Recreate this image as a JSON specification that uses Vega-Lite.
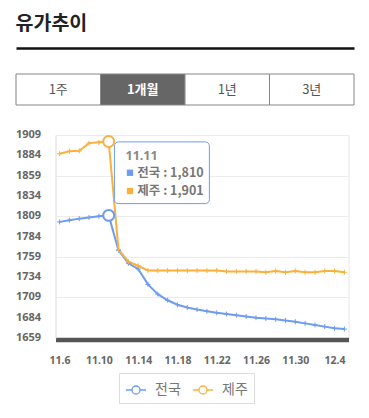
{
  "$schema": "https://vega.github.io/schema/vega-lite/v6.json",
  "autosize": {"type": "pad"},
  "padding": {"left": 15, "top": 13, "right": 5, "bottom": 5},
  "background": "white",
  "title": {"text": "유가추이", "anchor": "start", "frame": "bounds", "fontSize": 19.5, "fontWeight": "bold", "font": "Noto Sans CJK KR", "color": "#222222", "offset": 14},
  "config": {
    "font": "Noto Sans CJK KR",
    "view": {"stroke": "#e6e6e6"}
  },
  "datasets": {
    "prices": [
      {"date": "2023-11-06", "series": "전국", "value": 1802},
      {"date": "2023-11-07", "series": "전국", "value": 1804},
      {"date": "2023-11-08", "series": "전국", "value": 1806},
      {"date": "2023-11-09", "series": "전국", "value": 1807.5},
      {"date": "2023-11-10", "series": "전국", "value": 1809},
      {"date": "2023-11-11", "series": "전국", "value": 1810},
      {"date": "2023-11-12", "series": "전국", "value": 1767},
      {"date": "2023-11-13", "series": "전국", "value": 1751},
      {"date": "2023-11-14", "series": "전국", "value": 1744},
      {"date": "2023-11-15", "series": "전국", "value": 1725},
      {"date": "2023-11-16", "series": "전국", "value": 1713},
      {"date": "2023-11-17", "series": "전국", "value": 1705.5},
      {"date": "2023-11-18", "series": "전국", "value": 1700},
      {"date": "2023-11-19", "series": "전국", "value": 1696.5},
      {"date": "2023-11-20", "series": "전국", "value": 1694},
      {"date": "2023-11-21", "series": "전국", "value": 1692},
      {"date": "2023-11-22", "series": "전국", "value": 1690},
      {"date": "2023-11-23", "series": "전국", "value": 1688.5},
      {"date": "2023-11-24", "series": "전국", "value": 1687},
      {"date": "2023-11-25", "series": "전국", "value": 1685.5},
      {"date": "2023-11-26", "series": "전국", "value": 1684},
      {"date": "2023-11-27", "series": "전국", "value": 1683},
      {"date": "2023-11-28", "series": "전국", "value": 1682},
      {"date": "2023-11-29", "series": "전국", "value": 1680.5},
      {"date": "2023-11-30", "series": "전국", "value": 1679},
      {"date": "2023-12-01", "series": "전국", "value": 1677},
      {"date": "2023-12-02", "series": "전국", "value": 1675},
      {"date": "2023-12-03", "series": "전국", "value": 1673},
      {"date": "2023-12-04", "series": "전국", "value": 1671},
      {"date": "2023-12-05", "series": "전국", "value": 1670},
      {"date": "2023-11-06", "series": "제주", "value": 1886},
      {"date": "2023-11-07", "series": "제주", "value": 1889},
      {"date": "2023-11-08", "series": "제주", "value": 1889.5},
      {"date": "2023-11-09", "series": "제주", "value": 1899},
      {"date": "2023-11-10", "series": "제주", "value": 1900},
      {"date": "2023-11-11", "series": "제주", "value": 1901},
      {"date": "2023-11-12", "series": "제주", "value": 1768},
      {"date": "2023-11-13", "series": "제주", "value": 1753},
      {"date": "2023-11-14", "series": "제주", "value": 1748},
      {"date": "2023-11-15", "series": "제주", "value": 1742},
      {"date": "2023-11-16", "series": "제주", "value": 1742},
      {"date": "2023-11-17", "series": "제주", "value": 1742},
      {"date": "2023-11-18", "series": "제주", "value": 1742},
      {"date": "2023-11-19", "series": "제주", "value": 1742},
      {"date": "2023-11-20", "series": "제주", "value": 1742},
      {"date": "2023-11-21", "series": "제주", "value": 1742},
      {"date": "2023-11-22", "series": "제주", "value": 1742},
      {"date": "2023-11-23", "series": "제주", "value": 1741},
      {"date": "2023-11-24", "series": "제주", "value": 1741},
      {"date": "2023-11-25", "series": "제주", "value": 1741},
      {"date": "2023-11-26", "series": "제주", "value": 1741},
      {"date": "2023-11-27", "series": "제주", "value": 1740},
      {"date": "2023-11-28", "series": "제주", "value": 1741.5},
      {"date": "2023-11-29", "series": "제주", "value": 1740},
      {"date": "2023-11-30", "series": "제주", "value": 1741.5},
      {"date": "2023-12-01", "series": "제주", "value": 1740},
      {"date": "2023-12-02", "series": "제주", "value": 1740},
      {"date": "2023-12-03", "series": "제주", "value": 1741.5},
      {"date": "2023-12-04", "series": "제주", "value": 1741.5},
      {"date": "2023-12-05", "series": "제주", "value": 1740}
    ],
    "tabs": [{"tab": "1주"}, {"tab": "1개월"}, {"tab": "1년"}, {"tab": "3년"}],
    "yticks": [{"v": 1659}, {"v": 1684}, {"v": 1709}, {"v": 1734}, {"v": 1759}, {"v": 1784}, {"v": 1809}, {"v": 1834}, {"v": 1859}, {"v": 1884}, {"v": 1909}]
  },
  "spacing": 23,
  "vconcat": [
    {
      "width": 338,
      "height": 31,
      "view": {"stroke": null},
      "data": {"name": "tabs"},
      "encoding": {
        "x": {"field": "tab", "type": "nominal", "sort": null, "scale": {"type": "band", "paddingInner": 0, "paddingOuter": 0},
          "axis": {"orient": "top", "labels": false, "ticks": false, "title": null, "domainColor": "#111111", "domainWidth": 2.5, "offset": 26}}
      },
      "layer": [
        {"mark": {"type": "rect", "stroke": "#858585", "strokeWidth": 1},
         "encoding": {"fill": {"condition": {"test": "datum.tab === '1개월'", "value": "#666666"}, "value": "white"}}},
        {"transform": [{"filter": "datum.tab !== '1개월'"}],
         "mark": {"type": "text", "fontSize": 13, "color": "#555555"},
         "encoding": {"text": {"field": "tab"}}},
        {"transform": [{"filter": "datum.tab === '1개월'"}],
         "mark": {"type": "text", "fontSize": 13, "fontWeight": "bold", "color": "white"},
         "encoding": {"text": {"field": "tab"}}}
      ]
    },
    {
      "spacing": 6.5,
      "hconcat": [
        {
          "width": 25,
          "height": 203,
          "view": {"stroke": null},
          "data": {"name": "yticks"},
          "mark": {"type": "text", "fontSize": 11, "fontWeight": "bold", "color": "#666666", "font": "Noto Sans"},
          "encoding": {
            "y": {"field": "v", "type": "quantitative", "scale": {"domain": [1659, 1909], "nice": false, "zero": false}, "axis": null},
            "text": {"field": "v", "type": "quantitative", "format": "d"}
          }
        },
        {
          "width": 293,
          "height": 203,
          "layer": [
            {
              "data": {"name": "prices"},
              "mark": {"type": "line", "strokeWidth": 2},
              "encoding": {
                "x": {"field": "date", "type": "temporal",
                  "scale": {"type": "utc", "domain": [{"year": 2023, "month": 11, "date": 5, "hours": 14, "utc": true}, {"year": 2023, "month": 12, "date": 5, "hours": 10, "utc": true}]},
                  "axis": {"title": null, "labelExpr": "utcFormat(datum.value, '%-m.%-d')",
                    "values": [
                      {"year": 2023, "month": 11, "date": 6, "utc": true},
                      {"year": 2023, "month": 11, "date": 10, "utc": true},
                      {"year": 2023, "month": 11, "date": 14, "utc": true},
                      {"year": 2023, "month": 11, "date": 18, "utc": true},
                      {"year": 2023, "month": 11, "date": 22, "utc": true},
                      {"year": 2023, "month": 11, "date": 26, "utc": true},
                      {"year": 2023, "month": 11, "date": 30, "utc": true},
                      {"year": 2023, "month": 12, "date": 4, "utc": true}
                    ],
                    "ticks": false, "grid": false, "domainColor": "#555555", "domainWidth": 4.5, "offset": 1.5,
                    "labelFont": "Noto Sans", "labelFontSize": 10.5, "labelFontWeight": "bold", "labelColor": "#666666",
                    "labelPadding": 16, "labelFlush": false, "labelOverlap": false}},
                "y": {"field": "value", "type": "quantitative",
                  "scale": {"domain": [1659, 1909], "nice": false, "zero": false},
                  "axis": {"title": null, "values": [1659, 1684, 1709, 1734, 1759, 1784, 1809, 1834, 1859, 1884, 1909],
                    "labels": false, "ticks": false, "grid": true, "gridColor": "#ececec", "domainColor": "#e6e6e6", "minExtent": 0, "maxExtent": 0}},
                "color": {"field": "series", "type": "nominal",
                  "scale": {"domain": ["전국", "제주"], "range": ["#6d9cf0", "#fbb03b"]},
                  "legend": {"title": null, "orient": "none", "legendX": 103, "legendY": 299, "direction": "horizontal", "columns": 2,
                    "symbolType": "M-1,0L-0.4,0M0.4,0L1,0M-0.4,0A0.4,0.4,0,1,1,0.4,0A0.4,0.4,0,1,1,-0.4,0",
                    "symbolSize": 400, "symbolStrokeWidth": 1.3, "symbolFillColor": "white",
                    "labelFontSize": 14, "labelColor": "#777777", "labelOffset": 8, "columnPadding": 9,
                    "padding": 6, "strokeColor": "#dddddd", "fillColor": "white"}}
              }
            },
            {
              "data": {"name": "prices"},
              "mark": {"type": "point", "shape": "M-1,0L1,0M0,-1L0,1", "size": 25, "strokeWidth": 1, "filled": false, "opacity": 1},
              "encoding": {
                "x": {"field": "date", "type": "temporal"},
                "y": {"field": "value", "type": "quantitative"},
                "stroke": {"field": "series", "type": "nominal", "scale": {"domain": ["전국", "제주"], "range": ["#6d9cf0", "#fbb03b"]}, "legend": null}
              }
            },
            {
              "data": {"name": "prices"},
              "transform": [{"filter": "utcmonth(datum.date) === 10 && utcdate(datum.date) === 11"}],
              "mark": {"type": "point", "shape": "circle", "size": 120, "strokeWidth": 2, "fill": "white", "opacity": 1},
              "encoding": {
                "x": {"field": "date", "type": "temporal"},
                "y": {"field": "value", "type": "quantitative"},
                "stroke": {"field": "series", "type": "nominal", "scale": {"domain": ["전국", "제주"], "range": ["#6d9cf0", "#fbb03b"]}, "legend": null}
              }
            },
            {
              "data": {"values": [{}]},
              "mark": {"type": "rect", "fill": "white", "stroke": "#6d9cf0", "strokeWidth": 1, "cornerRadius": 4},
              "encoding": {
                "x": {"datum": {"year": 2023, "month": 11, "date": 11, "hours": 14, "utc": true}},
                "x2": {"datum": {"year": 2023, "month": 11, "date": 21, "hours": 6, "utc": true}},
                "y": {"datum": 1900.5},
                "y2": {"datum": 1824.5}
              }
            },
            {
              "data": {"values": [{}]},
              "mark": {"type": "text", "text": "11.11", "align": "left", "baseline": "middle", "fontSize": 12.5, "fontWeight": "bold", "color": "#888888", "font": "Noto Sans"},
              "encoding": {
                "x": {"datum": {"year": 2023, "month": 11, "date": 12, "hours": 17, "utc": true}},
                "y": {"datum": 1883}
              }
            },
            {
              "data": {"values": [{}]},
              "mark": {"type": "point", "shape": "square", "size": 40, "filled": true, "color": "#6d9cf0", "opacity": 1},
              "encoding": {
                "x": {"datum": {"year": 2023, "month": 11, "date": 13, "hours": 4, "utc": true}},
                "y": {"datum": 1862.5}
              }
            },
            {
              "data": {"values": [{}]},
              "mark": {"type": "point", "shape": "square", "size": 40, "filled": true, "color": "#fbb03b", "opacity": 1},
              "encoding": {
                "x": {"datum": {"year": 2023, "month": 11, "date": 13, "hours": 4, "utc": true}},
                "y": {"datum": 1840}
              }
            },
            {
              "data": {"values": [{}]},
              "mark": {"type": "text", "text": "전국 : 1,810", "align": "left", "baseline": "middle", "fontSize": 12.5, "fontWeight": "bold", "color": "#777777"},
              "encoding": {
                "x": {"datum": {"year": 2023, "month": 11, "date": 13, "hours": 22, "utc": true}},
                "y": {"datum": 1862.5}
              }
            },
            {
              "data": {"values": [{}]},
              "mark": {"type": "text", "text": "제주 : 1,901", "align": "left", "baseline": "middle", "fontSize": 12.5, "fontWeight": "bold", "color": "#777777"},
              "encoding": {
                "x": {"datum": {"year": 2023, "month": 11, "date": 13, "hours": 22, "utc": true}},
                "y": {"datum": 1840}
              }
            }
          ]
        }
      ]
    }
  ]
}
